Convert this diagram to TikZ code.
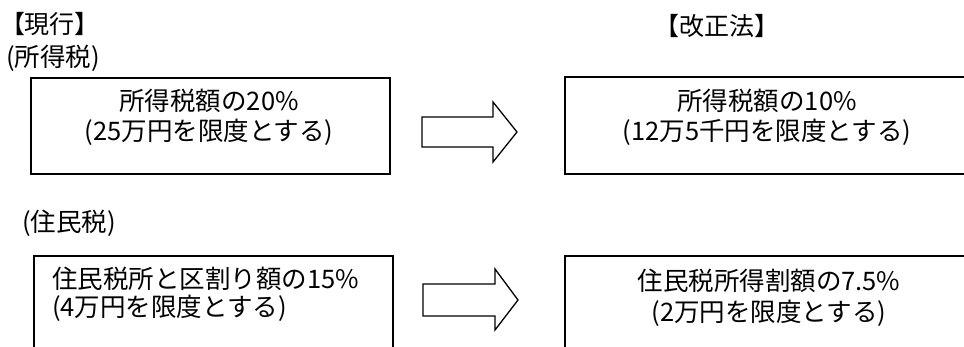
\documentclass[tikz,border=0pt]{standalone}
\usepackage{fontspec}
\setmainfont{Noto Sans CJK JP}
\begin{document}
\begin{tikzpicture}[x=1pt,y=-1pt,
  box/.style={draw,line width=1.8pt,inner sep=0pt},
  txt/.style={inner sep=0pt,font=\fontsize{25.5}{30}\selectfont},
  ttl/.style={inner sep=0pt,font=\fontsize{25}{30}\selectfont},
  blockarrow/.style={draw,line width=1.3pt,fill=white,line join=miter}]
\useasboundingbox (0,0) rectangle (964,347);
\clip (0,0) rectangle (964,347);
% titles
\node[ttl] (t1) at (50,24) {【現行】};
\node[ttl] (t2) at (717,26) {【改正法】};
\node[txt] (s1) at (53,58) {(所得税)};
\node[txt] (s2) at (69,223) {(住民税)};
% boxes
\node[box,minimum width=359pt,minimum height=96pt] (b1) at (210.5,126) {};
\node[box,minimum width=430pt,minimum height=97pt] (b2) at (780,125.5) {};
\node[box,minimum width=359pt,minimum height=120pt] (b3) at (213.5,316) {};
\node[box,minimum width=430pt,minimum height=120pt] (b4) at (780,316) {};
% texts
\node[txt,align=center] (x1) at (209,117) {所得税額の20\%\\(25万円を限度とする)};
\node[txt,align=center] (x2) at (767,117) {所得税額の10\%\\(12万5千円を限度とする)};
\node[txt,align=left,anchor=west,font=\fontsize{25.5}{28}\selectfont] (x3) at (52,294) {住民税所と区割り額の15\%\\(4万円を限度とする)};
\node[txt,align=center,font=\fontsize{25.5}{31}\selectfont] (x4) at (769,297.5) {住民税所得割額の7.5\%\\(2万円を限度とする)};
% block arrows
\draw[blockarrow] (422,117) -- (493,117) -- (493,102) -- (517,132) -- (493,162) -- (493,147) -- (422,147) -- cycle;
\draw[blockarrow] (423,284) -- (495,284) -- (495,269) -- (518,300) -- (495,330) -- (495,316) -- (423,316) -- cycle;
\end{tikzpicture}
\end{document}
